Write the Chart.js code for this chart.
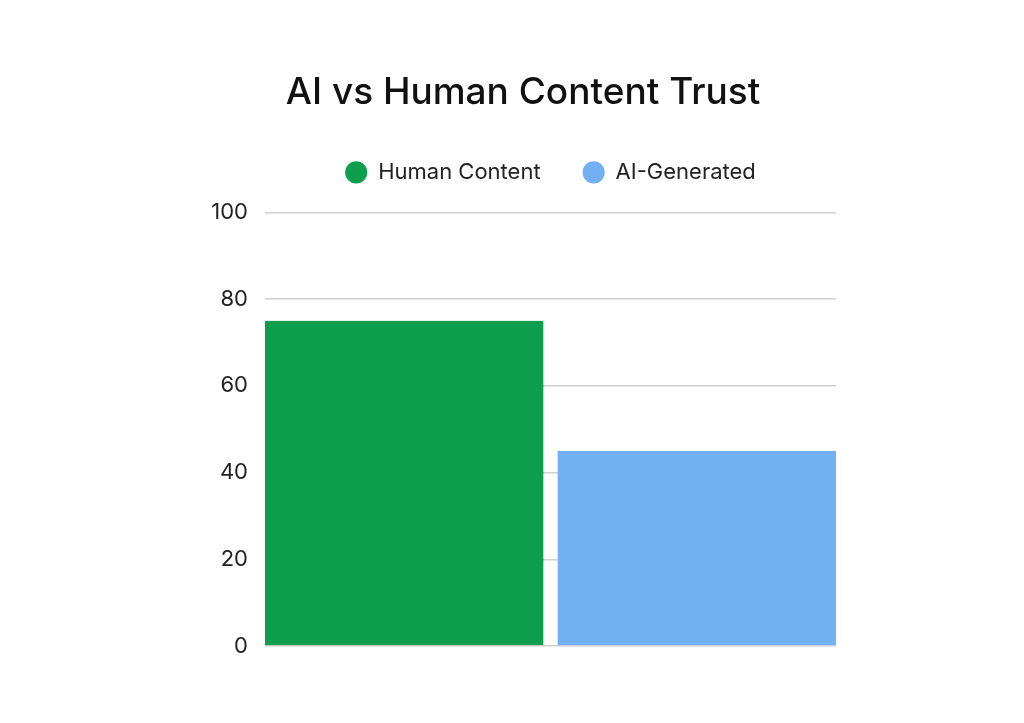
<!DOCTYPE html>
<html>
<head>
<meta charset="utf-8">
<script src="https://cdn.jsdelivr.net/npm/chart.js@4"></script>
<style>
  html, body { margin: 0; padding: 0; background: #fff; }
  #wrap { width: 1024px; height: 723px; }
</style>
</head>
<body>
<div id="wrap"><canvas id="trust"></canvas></div>
<script>
const categories = [""];
const humanValues = [75];
const aiValues = [45];
const yTicks = [0, 20, 40, 60, 80, 100];

const FONT = "Inter";

// legend sits centred over the plot area, title over the whole figure
const centerLegendOnPlot = {
    id: "centerLegendOnPlot",
    afterLayout: function (chart) {
        var lg = chart.legend;
        var dx = (chart.chartArea.left + chart.chartArea.right) / 2 - (lg.left + lg.right) / 2;
        lg.left += dx;
        lg.right += dx;
    }
};

var ctx = document.getElementById("trust").getContext("2d");
var chart = new Chart(ctx, {
    type: "bar",
    data: {
        labels: categories,
        datasets: [{
            label: "Human Content",
            data: humanValues,
            backgroundColor: "#0e9e4e",
            borderColor: "rgba(0,0,0,0)",
            borderWidth: {right: 7.5, left: 0, top: 0, bottom: 0},
            borderSkipped: false
        }, {
            label: "AI-Generated",
            data: aiValues,
            backgroundColor: "#72b0f4",
            borderColor: "rgba(0,0,0,0)",
            borderWidth: {left: 7.5, right: 0, top: 0, bottom: 0},
            borderSkipped: false
        }]
    },
    plugins: [centerLegendOnPlot],
    options: {
        responsive: true,
        maintainAspectRatio: false,
        animation: false,
        layout: {
            padding: {left: 210, right: 188, top: 71, bottom: 77}
        },
        plugins: {
            title: {
                display: true,
                text: "AI vs Human Content Trust",
                color: "#111",
                font: {family: FONT, size: 37, weight: "500"},
                padding: {top: 0, bottom: 4}
            },
            legend: {
                display: true,
                labels: {
                    usePointStyle: true,
                    pointStyle: "circle",
                    boxWidth: 22,
                    boxHeight: 15.6,
                    color: "#222",
                    font: {family: FONT, size: 22},
                    padding: 42
                }
            },
            tooltip: {enabled: false}
        },
        datasets: {
            bar: {categoryPercentage: 1, barPercentage: 1}
        },
        scales: {
            x: {
                display: true,
                grid: {display: false, drawTicks: false},
                border: {display: false},
                ticks: {display: false}
            },
            x2: {
                type: "category",
                position: "top",
                display: true,
                grid: {display: false, drawTicks: false},
                border: {display: false},
                ticks: {display: false},
                afterFit: function (axis) { axis.height = 19; }
            },
            y: {
                min: yTicks[0],
                max: yTicks[yTicks.length - 1],
                afterBuildTicks: function (axis) {
                    axis.ticks = yTicks.map(function (v) { return {value: v}; });
                },
                afterFit: function (axis) { axis.width = 55; },
                grid: {color: "#d0d0d0", lineWidth: 1.5, drawTicks: false},
                border: {display: false},
                ticks: {
                    color: "#222",
                    font: {family: FONT, size: 22},
                    padding: 17
                }
            }
        }
    }
});
</script>
</body>
</html>
